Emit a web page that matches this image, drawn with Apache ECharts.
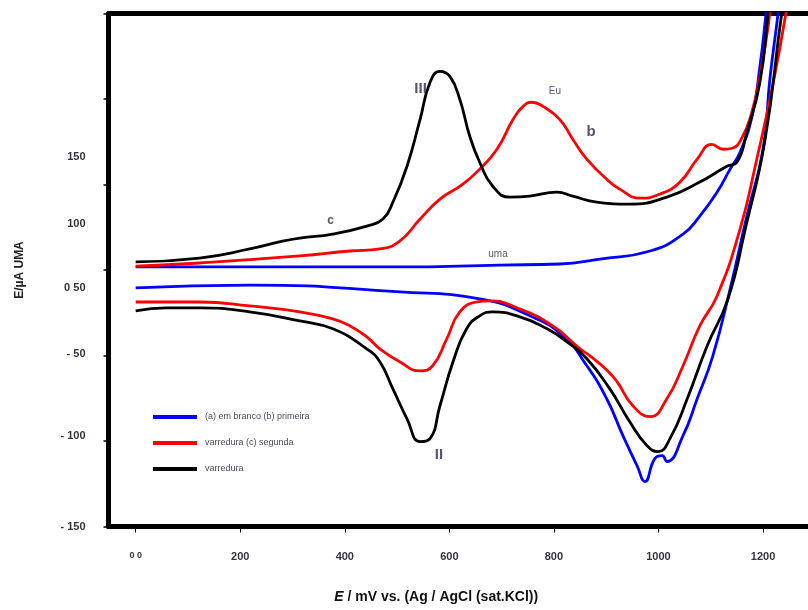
<!DOCTYPE html>
<html><head><meta charset="utf-8">
<script src="https://cdn.jsdelivr.net/npm/echarts@6/dist/echarts.min.js"></script>
<style>html,body{margin:0;padding:0;background:#fff}#c{width:808px;height:610px}</style>
</head><body><div id="c"></div>
<script>
// ---- data ----
const seriesNames = ['(a) em branco (b) primeira', 'varredura (c) segunda', 'varredura'];
const xTicks = [0, 200, 400, 600, 800, 1000, 1200];
const xTickLabels = ['0 0', '200', '400', '600', '800', '1000', '1200'];
const yLabelValues = [66, 27, -10.7, -49, -97, -150];
const yTickLabels = ['150', '100', '0 50', '- 50', '- 100', '- 150'];

const blueE = [0,218,505,697,811,888,984,1047,1079,1112,1137,1156,1179,1194,1206,1213,
  1236,1229,1213,1200,1169,1137,1104,1074,1047,1016,1007,993,974,959,932,901,863,817,754,658,505,218,0];
const blueI = [1.8,1.8,1.8,2.9,3.5,6.4,11.1,21,31.5,45.5,59,68.9,89.9,119,150.6,170,
  170,150.6,111.5,70.6,31.5,-11.1,-50.2,-75.3,-96.9,-112,-108.6,-110.3,-123.7,-114.4,-96.9,-75.3,-56,-38.5,-26.8,-16.9,-12.8,-8.8,-10.5];

const redE = [0,122,314,410,467,505,544,582,626,658,691,722,741,758,779,811,836,863,901,926,965,1003,1041,1074,1102,1124,1141,1160,1179,1194,1208,1213,1219,
  1252,1244,1217,1188,1156,1112,1079,1047,1016,984,951,921,903,869,850,798,735,677,653,620,595,568,544,505,467,442,410,377,314,218,122,0];
const redI = [2.3,4.1,8.2,11.1,12.3,16.9,29.8,41.4,50.2,59,70.6,88.1,95.7,98.1,95.7,88.1,76.5,64.8,53.1,47.3,42,44.4,51.4,64.8,73.5,70.6,71.2,77.6,92.8,113.2,138.9,150.6,170,
  170,150.6,105.6,64.8,23.9,-15.2,-32.7,-56,-75.3,-85.8,-79.4,-65.4,-59,-50.2,-46.1,-32.7,-22.8,-18.1,-18.7,-24.5,-40.3,-56,-59,-53.7,-46.1,-39.1,-32.7,-28.6,-24.5,-21,-18.7,-18.7];

const blackE = [0,122,218,281,314,377,442,473,492,519,544,563,582,601,620,639,658,683,716,754,806,836,882,945,1016,1079,1131,1150,1169,1194,1210,1217,
  1248,1236,1204,1166,1133,1093,1055,1022,999,978,945,907,863,825,787,735,683,658,633,607,582,563,544,519,492,467,442,377,314,218,122,59,0];
const blackI = [4.7,7,12.3,16.9,18.7,21,25.7,29.8,39.7,60.7,88.1,109.7,116.2,113.2,99.8,78.2,63,49,42.6,43.2,45.5,43.2,39.7,38.5,42.6,51.4,60.7,63,80.5,109.7,150.6,170,
  170,150.6,76.5,23.9,-16.9,-44.4,-75.3,-98.6,-106.2,-102.7,-88.7,-69.5,-51.9,-42,-34.4,-27.4,-24.5,-26.8,-34.4,-53.7,-79.4,-98.6,-100.4,-87,-69.5,-53.7,-46.1,-34.4,-29.8,-24.5,-22.2,-22.2,-23.9];

const annoText = ['III', 'Eu', 'b', 'c', 'uma', 'II'];
const annoE = [545, 802, 871, 373, 693, 580];
const annoI = [106.2, 104.5, 80.5, 28.6, 9.3, -108];

// ---- styles ----
const FONT = '"Liberation Sans", Arial, sans-serif';
const annoStyle = {
  'III': {fontSize: 15, fontWeight: 'bold'},
  'Eu': {fontSize: 10, fontWeight: 'normal'},
  'b': {fontSize: 15, fontWeight: 'bold'},
  'c': {fontSize: 12, fontWeight: 'bold'},
  'uma': {fontSize: 10, fontWeight: 'normal'},
  'II': {fontSize: 15, fontWeight: 'bold'}
};
const zip = (a, b) => a.map((v, i) => [v, b[i]]);
const lineSeries = (name, E, I, color) => ({
  name, type: 'line', data: zip(E, I), smooth: 0.5, showSymbol: false, symbol: 'none',
  clip: true, lineStyle: {color, width: 2.8}, itemStyle: {color}, silent: true, z: 3
});

const chart = echarts.init(document.getElementById('c'), null, {renderer: 'canvas'});
chart.setOption({
  animation: false,
  backgroundColor: '#ffffff',
  textStyle: {fontFamily: FONT},
  grid: {left: 108.5, right: 0, top: 13.5, bottom: 83.5},
  legend: {
    data: seriesNames, orient: 'vertical', left: 148, top: 406,
    itemWidth: 44, itemHeight: 4, itemGap: 14, icon: 'rect',
    textStyle: {fontSize: 9, color: '#4a4a60', lineHeight: 12, fontFamily: FONT, padding: [0, 0, 0, 3]}
  },
  xAxis: [{
    type: 'value', min: -52, max: 1286, position: 'bottom',
    name: '{i|E} / mV vs. (Ag / AgCl (sat.KCl))',
    nameLocation: 'middle', nameGap: 64,
    nameTextStyle: {fontSize: 14, fontWeight: 'bold', color: '#111', padding: [0, 44, 0, 0],
      rich: {i: {fontSize: 14, fontWeight: 'bold', fontStyle: 'italic', color: '#111'}}},
    axisLine: {show: true, onZero: false, lineStyle: {color: '#000', width: 5}},
    axisTick: {show: true, inside: false, length: 6, customValues: xTicks, lineStyle: {color: '#000', width: 1}},
    axisLabel: {show: true, margin: 25, customValues: xTicks, fontSize: 11, fontWeight: 'bold', color: '#333344',
      formatter: v => { const i = xTicks.indexOf(v); return i === 0 ? '{s|' + xTickLabels[0] + '}' : (i >= 0 ? xTickLabels[i] : ''); },
      rich: {s: {fontSize: 9, fontWeight: 'bold', color: '#333344'}}},
    splitLine: {show: false}
  }, {
    type: 'value', min: -52, max: 1286, position: 'top',
    axisLine: {show: true, onZero: false, lineStyle: {color: '#000', width: 5}},
    axisTick: {show: false}, axisLabel: {show: false}, splitLine: {show: false}
  }],
  yAxis: {
    type: 'value', min: -150, max: 150, interval: 50,
    name: 'E/µA UMA', nameLocation: 'middle', nameRotate: 90, nameGap: 83,
    nameTextStyle: {fontSize: 12, fontWeight: 'bold', color: '#222'},
    axisLine: {show: true, onZero: false, lineStyle: {color: '#000', width: 5}},
    axisTick: {show: true, inside: false, length: 5, lineStyle: {color: '#000', width: 1.5}},
    axisLabel: {show: true, margin: 23, customValues: yLabelValues, fontSize: 11, fontWeight: 'bold', color: '#333344',
      formatter: v => { for (let i = 0; i < yLabelValues.length; i++) if (Math.abs(v - yLabelValues[i]) < 0.01) return yTickLabels[i]; return ''; }},
    splitLine: {show: false}
  },
  series: [
    lineSeries(seriesNames[0], blueE, blueI, '#0000ff'),
    lineSeries(seriesNames[1], redE, redI, '#ff0000'),
    lineSeries(seriesNames[2], blackE, blackI, '#000000'),
    {
      name: 'annotations', type: 'scatter', symbolSize: 0, silent: true, z: 5,
      data: annoText.map((t, i) => ({
        name: t, value: [annoE[i], annoI[i]],
        label: Object.assign({show: true, position: 'inside', formatter: t, color: '#2a2a48', fontFamily: FONT}, annoStyle[t])
      }))
    }
  ]
});
</script></body></html>
